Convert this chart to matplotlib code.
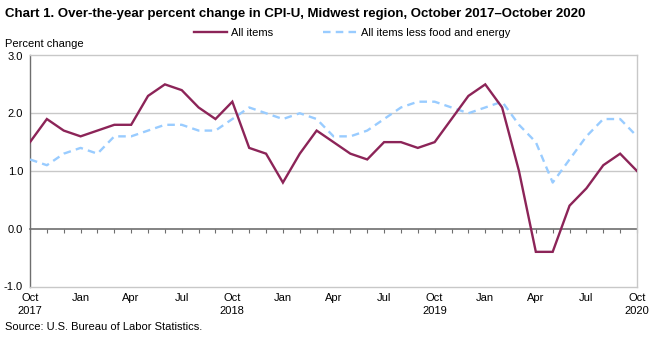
import matplotlib
matplotlib.use("Agg")
import matplotlib.pyplot as plt
import numpy as np

plt.rcParams['font.family'] = ['Liberation Sans', 'DejaVu Sans']

months = ["Oct\n2017", "Nov", "Dec", "Jan", "Feb", "Mar", "Apr", "May", "Jun", "Jul", "Aug", "Sep",
          "Oct\n2018", "Nov", "Dec", "Jan", "Feb", "Mar", "Apr", "May", "Jun", "Jul", "Aug", "Sep",
          "Oct\n2019", "Nov", "Dec", "Jan", "Feb", "Mar", "Apr", "May", "Jun", "Jul", "Aug", "Sep",
          "Oct\n2020"]
all_items = [1.5, 1.9, 1.7, 1.6, 1.7, 1.8, 1.8, 2.3, 2.5, 2.4, 2.1, 1.9,
             2.2, 1.4, 1.3, 0.8, 1.3, 1.7, 1.5, 1.3, 1.2, 1.5, 1.5, 1.4,
             1.5, 1.9, 2.3, 2.5, 2.1, 1.0, -0.4, -0.4, 0.4, 0.7, 1.1, 1.3,
             1.0]
core = [1.2, 1.1, 1.3, 1.4, 1.3, 1.6, 1.6, 1.7, 1.8, 1.8, 1.7, 1.7,
        1.9, 2.1, 2.0, 1.9, 2.0, 1.9, 1.6, 1.6, 1.7, 1.9, 2.1, 2.2,
        2.2, 2.1, 2.0, 2.1, 2.2, 1.8, 1.5, 0.8, 1.2, 1.6, 1.9, 1.9,
        1.6]
yticks = [-1.0, 0.0, 1.0, 2.0, 3.0]

W, H = 657, 338
fig = plt.figure(figsize=(W / 100, H / 100), dpi=100)
ax = fig.add_axes([30 / W, 1 - 286.5 / H, (637 - 30) / W, (286.5 - 55.5) / H])

x = np.arange(len(months))
l1, = ax.plot(x, all_items, color='#8c2458', lw=1.7, solid_joinstyle='miter', zorder=4)
l2, = ax.plot(x, core, color='#99ccff', lw=1.7, ls=(0, (3.2, 2.2)), zorder=3)

ax.set_xlim(0, len(months) - 1)
ax.set_ylim(-1, 3)
ax.set_yticks(yticks)
ax.set_yticklabels([f"{v:.1f}" for v in yticks], fontsize=8)
ax.tick_params(axis='y', length=0, pad=5)

label_pos = [i for i in range(len(months)) if i % 3 == 0]
ax.set_xticks(label_pos)
ax.set_xticklabels([months[i] for i in label_pos], fontsize=8, linespacing=1.35)
ax.tick_params(axis='x', length=0, pad=5)

for v in [1.0, 2.0]:
    ax.axhline(v, color='#c8c8c8', lw=1.0, zorder=1)
for s in ['top', 'right', 'bottom']:
    ax.spines[s].set_color('#c8c8c8')
    ax.spines[s].set_linewidth(1.0)
ax.spines['left'].set_color('#6e6e6e')
ax.spines['left'].set_linewidth(1.0)

sec = ax.secondary_xaxis(0.25)
sec.set_xticks(x)
sec.set_xticklabels([''] * len(x))
sec.tick_params(axis='x', direction='out', length=3, color='#6e6e6e', width=0.8)
sec.spines['bottom'].set_color('#6e6e6e')
sec.spines['bottom'].set_linewidth(1.2)

fig.text(5 / W, 1 - 14 / H, "Chart 1. Over-the-year percent change in CPI-U, Midwest region, October 2017\u2013October 2020",
         fontsize=9.5, fontweight='bold', va='center', ha='left')
fig.text(5 / W, 1 - 44 / H, "Percent change", fontsize=8, va='center', ha='left')
fig.text(5 / W, 1 - 327 / H, "Source: U.S. Bureau of Labor Statistics.", fontsize=8, va='center', ha='left')

fig.legend([l1, l2], ["All items", "All items less food and energy"], loc='center',
           bbox_to_anchor=(352 / W, 1 - 33 / H), ncol=2, frameon=False, fontsize=8,
           handlelength=3.0, columnspacing=4.5, handletextpad=0.35)

fig.savefig("out.png", dpi=100)
